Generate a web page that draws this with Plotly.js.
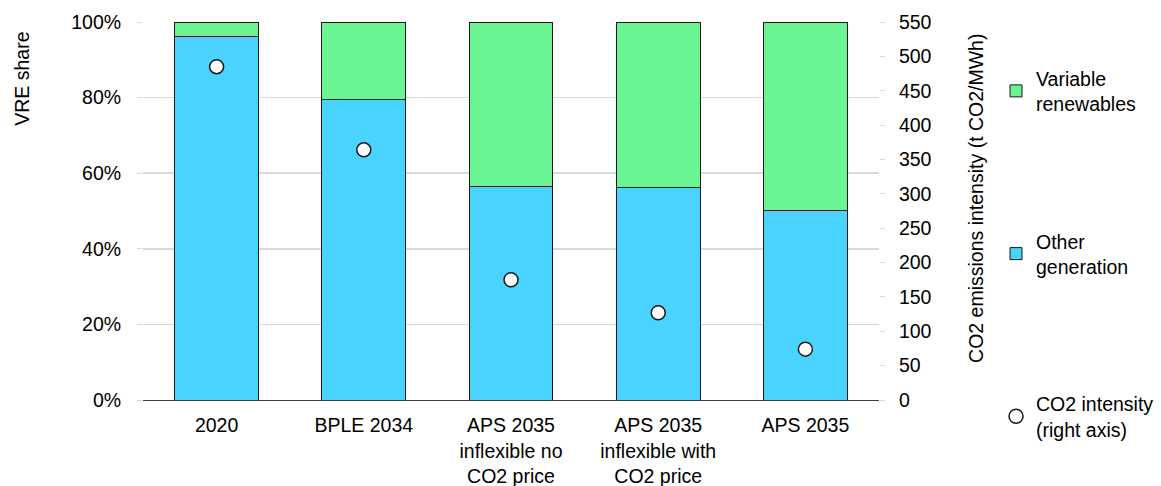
<!DOCTYPE html>
<html>
<head>
<meta charset="utf-8">
<script src="https://cdn.plot.ly/plotly-3.0.1.min.js"></script>
<style>html,body{margin:0;padding:0;background:#fff;}#chart{width:1161px;height:486px;}</style>
</head>
<body>
<div id="chart"></div>
<script>
const categories = ["2020", "BPLE 2034", "APS 2035<br>inflexible no<br>CO2 price", "APS 2035<br>inflexible with<br>CO2 price", "APS 2035"];
const otherGeneration = [96.1, 79.4, 56.4, 56.1, 50.2];
const variableRenewables = [3.9, 20.6, 43.6, 43.9, 49.8];
const co2Intensity = [485, 364, 175, 127, 74];

const FONT = "Liberation Sans, Arial, sans-serif";
const FS = 19.5;
const traces = [
  {type: "bar", name: "Other<br>generation", x: categories, y: otherGeneration,
   marker: {color: "#4bd3ff", line: {color: "#1a1a1a", width: 1}}, width: 0.57,
   legendgroup: "g2", legendrank: 2, hoverinfo: "skip"},
  {type: "bar", name: "Variable<br>renewables", x: categories, y: variableRenewables,
   marker: {color: "#6bf592", line: {color: "#1a1a1a", width: 1}}, width: 0.57,
   legendgroup: "g1", legendrank: 1, hoverinfo: "skip"},
  {type: "scatter", mode: "markers", name: "CO2 intensity<br>(right axis)", x: categories, y: co2Intensity,
   yaxis: "y2", marker: {color: "#ffffff", size: 14, line: {color: "#1a1a1a", width: 1.5}},
   legendgroup: "g3", legendrank: 3, hoverinfo: "skip"}
];

const layout = {
  width: 1161, height: 486,
  margin: {l: 143, r: 282, t: 22, b: 86, autoexpand: false},
  paper_bgcolor: "#ffffff", plot_bgcolor: "#ffffff",
  font: {family: FONT, size: FS, color: "#000000"},
  barmode: "stack", bargap: 0.43,
  showlegend: true,
  legend: {x: 1.159, xanchor: "left", y: 0.902, yanchor: "top", traceorder: "grouped", maxheight: 470,
           tracegroupgap: 109, font: {family: FONT, size: FS, color: "#000000"},
           bgcolor: "rgba(0,0,0,0)", itemclick: false},
  xaxis: {type: "category", automargin: false, showgrid: false, showline: true, linecolor: "#404040", linewidth: 1,
          ticks: "", ticklabelstandoff: 8, tickfont: {family: FONT, size: FS, color: "#000000"}, fixedrange: true},
  yaxis: {range: [0, 100], dtick: 20, ticksuffix: "%", automargin: false, showgrid: true, gridcolor: "#d9d9d9", gridwidth: 1.5,
          zeroline: false, showline: false, ticks: "outside", ticklen: 5, tickcolor: "#d9d9d9",
          ticklabelstandoff: 12, tickfont: {family: FONT, size: FS, color: "#000000"}, fixedrange: true},
  yaxis2: {range: [0, 550], dtick: 50, overlaying: "y", side: "right", automargin: false, showgrid: false, zeroline: false,
           showline: false, ticks: "outside", ticklen: 5, tickcolor: "#d9d9d9", ticklabelstandoff: 10,
           tickfont: {family: FONT, size: FS, color: "#000000"}, fixedrange: true},
  annotations: [
    {text: "VRE share", xref: "paper", yref: "paper", x: -0.1646, y: 0.979, xanchor: "center", yanchor: "top",
     textangle: -90, showarrow: false, font: {family: FONT, size: FS, color: "#000000"}},
    {text: "CO2 emissions intensity (t CO2/MWh)", xref: "paper", yref: "paper", x: 1.131, y: 0.533,
     xanchor: "center", yanchor: "middle", textangle: -90, showarrow: false,
     font: {family: FONT, size: FS, color: "#000000"}}
  ]
};

Plotly.newPlot("chart", traces, layout, {staticPlot: true, displayModeBar: false});
</script>
</body>
</html>
